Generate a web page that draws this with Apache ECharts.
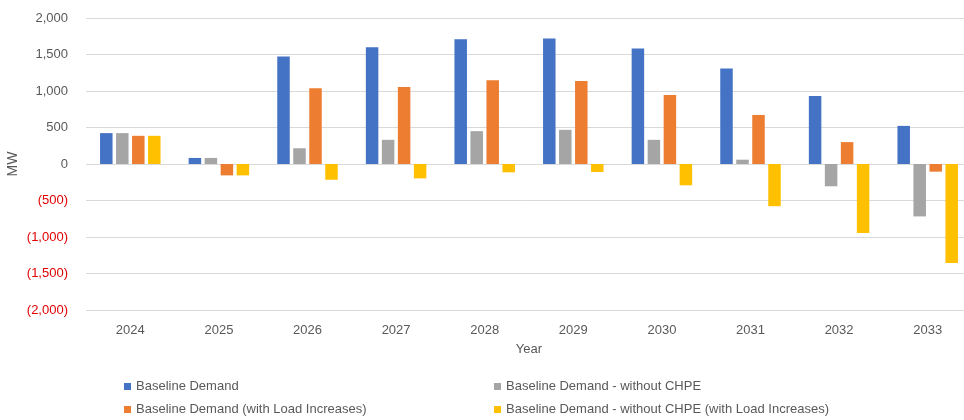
<!DOCTYPE html>
<html>
<head>
<meta charset="utf-8">
<script src="https://cdn.jsdelivr.net/npm/echarts@6/dist/echarts.min.js"></script>
<style>
  html, body { margin: 0; padding: 0; background: #fff; }
  #main { width: 964px; height: 420px; }
</style>
</head>
<body>
<div id="main"></div>
<script>
// data
var years = ['2024', '2025', '2026', '2027', '2028', '2029', '2030', '2031', '2032', '2033'];
var baseline = [423, 83, 1474, 1598, 1708, 1718, 1582, 1309, 931, 522];
var baselineNoChpe = [423, 83, 216, 331, 450, 468, 331, 59, -305, -718];
var baselineLoad = [386, -156, 1037, 1056, 1147, 1136, 945, 672, 300, -105];
var baselineNoChpeLoad = [386, -156, -216, -197, -114, -109, -292, -578, -946, -1355];
var yTicks = { min: -2000, max: 2000, interval: 500 };

var seriesNames = [
  'Baseline Demand',
  'Baseline Demand - without CHPE',
  'Baseline Demand (with Load Increases)',
  'Baseline Demand - without CHPE (with Load Increases)'
];
var colors = ['#4472C4', '#A5A5A5', '#ED7D31', '#FFC000'];

var chart = echarts.init(document.getElementById('main'));

function fmt(v) {
  var s = Math.abs(v).toLocaleString('en-US');
  return v < 0 ? '{neg|(' + s + ')}' : '{pos|' + s + '}';
}

function bar(name, data, i) {
  return {
    name: name,
    type: 'bar',
    data: data,
    barWidth: 12.5,
    barGap: '28%',
    itemStyle: { color: colors[i] }
  };
}

// one legend per item so the 2x2 layout stays put
var legendPos = [[124, 380], [494, 380], [124, 403], [494, 403]];
function legendItem(i) {
  return {
    data: [seriesNames[i]],
    left: legendPos[i][0],
    top: legendPos[i][1],
    padding: 0,
    itemWidth: 7, itemHeight: 7,
    icon: 'rect',
    textStyle: { color: '#595959', fontSize: 13, fontFamily: 'Liberation Sans' }
  };
}

var option = {
  animation: false,
  color: colors,
  textStyle: { fontFamily: 'Liberation Sans' },
  grid: { left: 86, right: -8, top: 18, bottom: 110, outerBoundsMode: 'none' },
  legend: [legendItem(0), legendItem(1), legendItem(2), legendItem(3)],
  xAxis: {
    type: 'category',
    data: years,
    name: 'Year',
    nameLocation: 'middle',
    nameGap: 33,
    nameMoveOverlap: false,
    nameTextStyle: { color: '#595959', fontSize: 13 },
    axisLine: { show: false, onZero: false },
    axisTick: { show: false },
    axisLabel: { color: '#595959', fontSize: 13, margin: 14 }
  },
  yAxis: {
    type: 'value',
    min: yTicks.min,
    max: yTicks.max,
    interval: yTicks.interval,
    name: 'MW',
    nameLocation: 'middle',
    nameGap: 66,
    nameMoveOverlap: false,
    nameTextStyle: { color: '#595959', fontSize: 14 },
    axisLine: { show: false },
    axisTick: { show: false },
    splitLine: { lineStyle: { color: '#D9D9D9' } },
    axisLabel: {
      margin: 18,
      formatter: fmt,
      rich: {
        pos: { color: '#595959', fontSize: 13 },
        neg: { color: '#E00000', fontSize: 13 }
      }
    }
  },
  series: [
    bar(seriesNames[0], baseline, 0),
    bar(seriesNames[1], baselineNoChpe, 1),
    bar(seriesNames[2], baselineLoad, 2),
    bar(seriesNames[3], baselineNoChpeLoad, 3)
  ]
};

chart.setOption(option);
</script>
</body>
</html>
